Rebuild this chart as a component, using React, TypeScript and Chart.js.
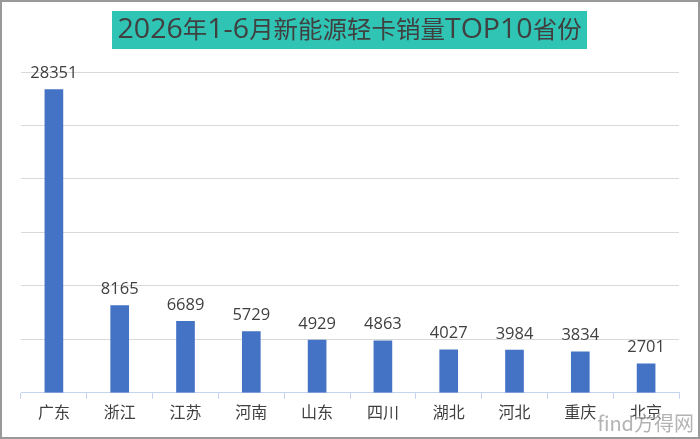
import React, { useEffect, useLayoutEffect, useRef } from "react";
import { Chart, registerables } from "chart.js";

Chart.register(...registerables);

const categories = ["广东", "浙江", "江苏", "河南", "山东", "四川", "湖北", "河北", "重庆", "北京"];
const sales = [28351, 8165, 6689, 5729, 4929, 4863, 4027, 3984, 3834, 2701];
const titleText = "2026年1-6月新能源轻卡销量TOP10省份";
const yMax = 30000;
const yStep = 5000;

const CJK = "'Noto Sans CJK SC', sans-serif";
const LATIN = "'Open Sans', 'Noto Sans CJK SC', sans-serif";

const valueLabels = {
  id: "valueLabels",
  afterDatasetsDraw(chart: any) {
    const ctx = chart.ctx;
    const meta = chart.getDatasetMeta(0);
    ctx.save();
    ctx.fillStyle = "#404040";
    ctx.font = `16.5px ${LATIN}`;
    ctx.textAlign = "center";
    ctx.textBaseline = "bottom";
    meta.data.forEach((bar: any, i: number) => {
      ctx.fillText(String(sales[i]), bar.x, bar.y - 8);
    });
    ctx.restore();
  },
};

function titleRuns(text: string) {
  const runs: { t: string; latin: boolean }[] = [];
  for (const ch of text) {
    const latin = /[\x00-\x7f]/.test(ch);
    const last = runs[runs.length - 1];
    if (last && last.latin === latin) last.t += ch;
    else runs.push({ t: ch, latin });
  }
  return runs;
}

export default function App() {
  const ref = useRef<HTMLCanvasElement | null>(null);
  const titleRef = useRef<HTMLSpanElement | null>(null);

  useLayoutEffect(() => {
    const el = titleRef.current;
    if (!el) return;
    const w = el.offsetWidth;
    if (w > 0) el.style.transform = `scaleX(${464 / w})`;
  }, []);

  useEffect(() => {
    if (!ref.current) return;
    const chart = new Chart(ref.current, {
      type: "bar",
      data: {
        labels: categories,
        datasets: [
          {
            data: sales,
            backgroundColor: "#4472C4",
            barThickness: 18,
          },
        ],
      },
      options: {
        animation: false,
        responsive: false,
        maintainAspectRatio: false,
        layout: { padding: { left: 21, right: 21, top: 72, bottom: 13 } },
        plugins: {
          legend: { display: false },
          title: { display: false },
          tooltip: { enabled: false },
        },
        scales: {
          x: {
            grid: {
              drawOnChartArea: false,
              drawTicks: true,
              tickLength: 6,
              color: "#c5d3ee",
            },
            border: { display: true, color: "#c5d3ee", width: 1 },
            ticks: {
              color: "#404040",
              font: { size: 16, family: CJK },
              padding: 4,
            },
          },
          y: {
            min: 0,
            max: yMax,
            ticks: { display: false, stepSize: yStep },
            grid: { color: "#d9d9d9", drawTicks: false },
            border: { display: false },
          },
        },
      },
      plugins: [valueLabels],
    });
    return () => chart.destroy();
  }, []);

  return (
    <div
      style={{
        position: "fixed",
        left: 0,
        top: 0,
        width: 700,
        height: 439,
        background: "#fff",
        overflow: "hidden",
      }}
    >
      <canvas ref={ref} width={700} height={439} style={{ position: "absolute", left: 0, top: 0 }} />
      <div
        style={{
          position: "absolute",
          left: 112,
          top: 11,
          width: 475,
          height: 38,
          background: "#30C4B5",
          color: "#404040",
          display: "flex",
          alignItems: "center",
          justifyContent: "center",
          whiteSpace: "nowrap",
        }}
      >
        <span
          ref={titleRef}
          style={{ display: "inline-block", transformOrigin: "center", lineHeight: "38px" }}
        >
          {titleRuns(titleText).map((r, i) => (
            <span
              key={i}
              style={{
                fontFamily: r.latin ? LATIN : CJK,
                fontSize: r.latin ? 28 : 24,
              }}
            >
              {r.t}
            </span>
          ))}
        </span>
      </div>
      <div
        style={{
          position: "absolute",
          right: 6,
          bottom: 2,
          fontFamily: CJK,
          fontSize: 20,
          color: "#9a9a9a",
          opacity: 0.75,
          textShadow: "0 0 2px #fff, 0 0 2px #fff",
        }}
      >
        find方得网
      </div>
      <div
        style={{
          position: "absolute",
          left: 0,
          top: 0,
          width: 700,
          height: 439,
          boxSizing: "border-box",
          border: "2px solid #999",
          pointerEvents: "none",
        }}
      />
    </div>
  );
}
